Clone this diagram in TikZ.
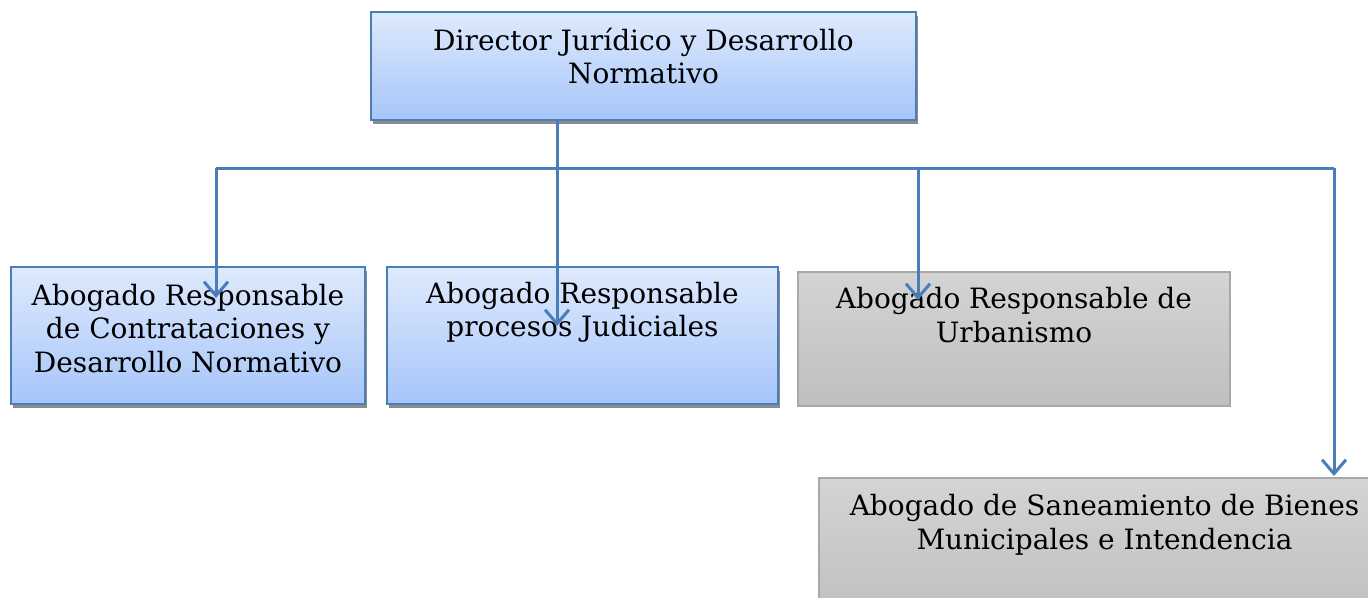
\documentclass[tikz,border=0pt]{standalone}
\usepackage{fontspec}
\setmainfont{DejaVu Serif}
\usepackage{tikz}
\usetikzlibrary{arrows.meta,shadows,positioning}
\definecolor{orgline}{HTML}{4A7EBB}
\definecolor{orgtop}{HTML}{DEEAFD}
\definecolor{orgbot}{HTML}{A6C5F9}
\definecolor{graytop}{HTML}{D4D4D4}
\definecolor{graybot}{HTML}{BFBFBF}
\definecolor{grayline}{HTML}{A8A8A8}

\begin{document}
\begin{tikzpicture}[x=1pt,y=-1pt]
            \tikzset{
            blue box/.style={rectangle,draw=orgline,line width=2.4pt,top color=orgtop,bottom color=orgbot,
                drop shadow={shadow xshift=1.5pt,shadow yshift=-3.5pt,fill=black!45,opacity=1}},
            gray box/.style={rectangle,draw=grayline,line width=1.4pt,top color=graytop,bottom color=graybot},
            org text/.style={anchor=north,inner sep=0,align=center,font=\fontsize{28}{33.5}\selectfont},
            conn/.style={draw=orgline,line width=3pt},
            arr/.style={conn,-{Straight Barb[length=14pt,width=24pt,line width=3pt]}}
            }
            \useasboundingbox (0,0) rectangle (1368,597);
            % boxes
            \node[blue box,minimum width=545pt,minimum height=108pt] (dir) at (643.5,66) {};
            \node[blue box,minimum width=354pt,minimum height=137pt] (contr) at (188,335.5) {};
            \node[blue box,minimum width=391pt,minimum height=137pt] (proc) at (582.5,335.5) {};
            \node[gray box,minimum width=432pt,minimum height=134pt] (urb) at (1014,339) {};
            \node[gray box,minimum width=571pt,minimum height=142pt] (san) at (1104.5,549) {};
            % texts
            \node[org text] (dirT) at ([yshift=-16pt]dir.north) {\strut Director Jurídico y Desarrollo\\Normativo};
            \node[org text] (contrT) at ([yshift=-16pt]contr.north) {\strut Abogado Responsable\\de Contrataciones y\\Desarrollo Normativo};
            \node[org text] (procT) at ([yshift=-14pt]proc.north) {\strut Abogado Responsable\\procesos Judiciales};
            \node[org text] (urbT) at ([yshift=-14pt]urb.north) {\strut Abogado Responsable de\\Urbanismo};
            \node[org text] (sanT) at ([yshift=-15pt]san.north) {\strut Abogado de Saneamiento de Bienes\\Municipales e Intendencia};
            % connectors
            \coordinate (busL) at (216,168);
            \coordinate (busR) at (1334,168);
            \coordinate (e1) at (216,298);
            \coordinate (e2) at (557,326);
            \coordinate (e3) at (918,300);
            \coordinate (e4) at (1334,476);
            \path[conn] (busL) -- (busR);
            \path[arr] (dir.south -| e2) -- (e2);
            \path[arr] (busL) -- (e1);
            \path[arr] (e3 |- busL) -- (e3);
            \path[arr] (busR) -- (e4);
\end{tikzpicture}
\end{document}
